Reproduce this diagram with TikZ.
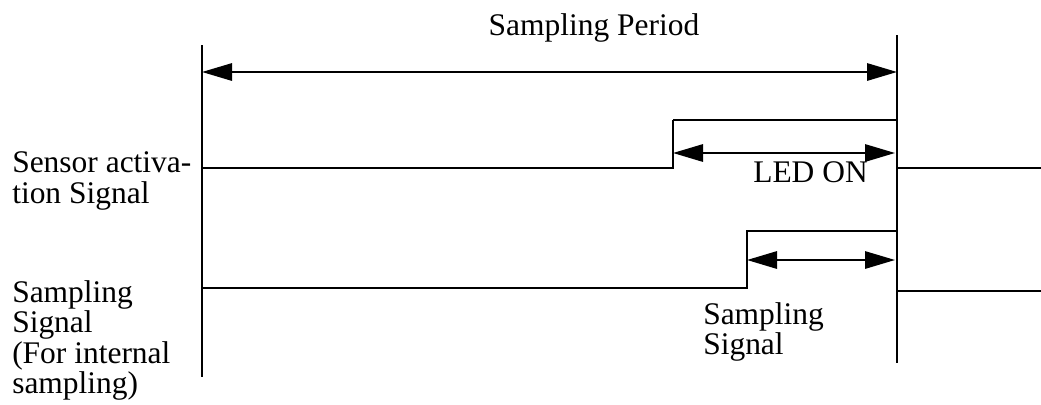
\documentclass[tikz,border=0pt]{standalone}
\usepackage{fontspec}
\setmainfont{Liberation Serif}
\usetikzlibrary{arrows.meta}
\newcommand{\lblfont}{\fontsize{23.6}{21.5}\selectfont}
\newcommand{\ls}{\rule[-5.5pt]{0pt}{21.5pt}}
\begin{document}
\begin{tikzpicture}[x=0.75pt,y=-0.75pt,
  sig/.style={line width=1.5pt},
  thin sig/.style={line width=1pt},
  dim/.style={line width=1.5pt,{Triangle[length=22.5pt,width=13pt]}-{Triangle[length=22.5pt,width=13pt]}},
  lbl/.style={font=\lblfont,inner sep=0pt},
  lbll/.style={lbl,align=left,anchor=north west}]
\useasboundingbox (0,0) rectangle (1041,404);
% reference lines
\coordinate (lt) at (202,45); \coordinate (lb) at (202,377);
\coordinate (rt) at (897,35); \coordinate (rb) at (897,363);
\draw[sig] (lt) -- (lb);
\draw[sig] (rt) -- (rb);
% sampling period
\coordinate (pl) at (202,72); \coordinate (pr) at (897,72);
\draw[dim] (pl) -- (pr);
\node[lbl,anchor=base] (period) at (594,35) {Sampling Period};
% sensor activation signal
\coordinate (s0) at (202,168); \coordinate (s1) at (673,168);
\coordinate (s2) at (673,120); \coordinate (s3) at (897,120);
\coordinate (s4) at (897,168); \coordinate (s5) at (1041,168);
\draw[sig] (s0) -- (s1) -- (s2);
\draw[thin sig] (s2) -- (s3);
\draw[sig] (s3) -- (s4) -- (s5);
\coordinate (la) at (673,153); \coordinate (lr) at (895,153);
\draw[dim] (la) -- (lr);
\node[lbl,anchor=base west] (led) at (753,182) {LED ON};
% sampling signal
\coordinate (t0) at (202,288); \coordinate (t1) at (747,288);
\coordinate (t2) at (747,231); \coordinate (t3) at (897,231);
\coordinate (t4) at (897,291); \coordinate (t5) at (1041,291);
\draw[sig] (t0) -- (t1) -- (t2) -- (t3) -- (t4) -- (t5);
\coordinate (ta) at (747,260); \coordinate (tr) at (895,260);
\draw[dim] (ta) -- (tr);
\node[lbll] (samp) at (703,302) {\ls Sampling\\\ls Signal};
% left labels
\node[lbll] (sens) at (12,151) {\ls Sensor activa-\\\ls tion Signal};
\node[lbll] (sampl) at (12,280) {\ls Sampling\\\ls Signal\\\ls (For internal\\\ls sampling)};
\end{tikzpicture}
\end{document}
